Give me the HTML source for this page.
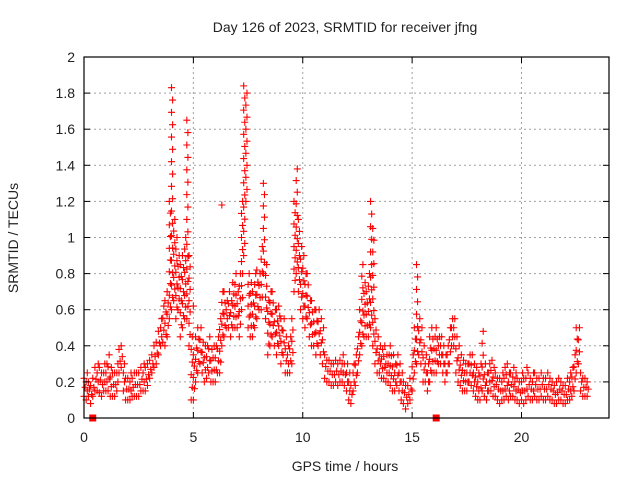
<!DOCTYPE html>
<html><head><meta charset="utf-8"><style>
html,body{margin:0;padding:0;background:#fff;}
svg text{font-family:"Liberation Sans",sans-serif;font-size:14px;fill:#222;}
</style></head><body>
<svg id="chart" width="640" height="480" viewBox="0 0 640 480" xmlns="http://www.w3.org/2000/svg">
<text x="345" y="32" text-anchor="middle">Day 126 of 2023, SRMTID for receiver jfng</text>
<text x="345" y="471" text-anchor="middle">GPS time / hours</text>
<text x="0" y="0" text-anchor="middle" transform="translate(18,238) rotate(-90)">SRMTID / TECUs</text>
<g id="grid"></g>
<g id="marks"></g>
<g id="axes"></g>
</svg>
<script>
const xTicks=[0,5,10,15,20];
const yTicks=[0,0.2,0.4,0.6,0.8,1,1.2,1.4,1.6,1.8,2];
const yTickLabels=["0","0.2","0.4","0.6","0.8","1","1.2","1.4","1.6","1.8","2"];
const startHour=0, stepHours=0.1;
const lowValues=[
0.12,0.10,0.12,0.08,0.12,0.15,0.15,0.14,0.12,0.15,
0.15,0.15,0.12,0.12,0.12,0.15,0.25,0.28,0.15,0.10,
0.10,0.10,0.12,0.12,0.12,0.12,0.15,0.15,0.15,0.18,
0.22,0.25,0.28,0.30,0.35,0.40,0.42,0.40,0.45,0.55,
0.60,0.65,0.55,0.60,0.45,0.50,0.55,0.55,0.40,0.10,
0.10,0.20,0.25,0.30,0.25,0.20,0.22,0.25,0.20,0.20,
0.20,0.25,0.25,0.40,0.45,0.50,0.50,0.45,0.50,0.50,
0.50,0.45,0.60,0.90,1.20,0.50,0.45,0.45,0.50,0.55,
0.60,0.60,0.80,0.55,0.35,0.40,0.45,0.40,0.35,0.40,
0.30,0.35,0.25,0.25,0.25,0.30,0.70,0.80,0.70,0.60,
0.55,0.50,0.55,0.45,0.40,0.40,0.35,0.40,0.35,0.30,
0.22,0.20,0.20,0.18,0.18,0.20,0.18,0.20,0.20,0.18,
0.15,0.10,0.08,0.15,0.18,0.25,0.35,0.40,0.45,0.45,
0.45,0.50,0.40,0.30,0.25,0.25,0.22,0.22,0.20,0.20,
0.18,0.15,0.15,0.18,0.15,0.10,0.08,0.05,0.08,0.10,
0.15,0.25,0.30,0.35,0.30,0.20,0.20,0.15,0.20,0.25,
0.25,0.25,0.30,0.30,0.25,0.20,0.25,0.30,0.40,0.40,
0.25,0.20,0.18,0.15,0.15,0.15,0.20,0.18,0.15,0.12,
0.10,0.10,0.15,0.12,0.10,0.15,0.15,0.12,0.12,0.10,
0.08,0.10,0.10,0.12,0.10,0.12,0.12,0.10,0.10,0.08,
0.10,0.08,0.10,0.12,0.10,0.10,0.12,0.10,0.10,0.12,
0.10,0.10,0.12,0.10,0.10,0.08,0.08,0.10,0.10,0.08,
0.08,0.10,0.10,0.12,0.15,0.25,0.30,0.15,0.12,0.12,
0.12];
const highValues=[
0.22,0.25,0.20,0.18,0.22,0.28,0.30,0.28,0.25,0.30,
0.30,0.35,0.28,0.25,0.25,0.30,0.38,0.40,0.30,0.22,
0.22,0.25,0.22,0.25,0.25,0.25,0.28,0.30,0.28,0.30,
0.32,0.35,0.40,0.42,0.48,0.55,0.62,0.65,0.70,1.20,
1.83,1.10,1.00,0.90,0.85,0.90,1.00,1.65,0.90,0.45,
0.35,0.45,0.50,0.50,0.42,0.40,0.40,0.45,0.38,0.40,
0.40,0.45,0.55,0.70,0.70,0.65,0.70,0.65,0.75,0.80,
0.70,0.80,1.20,1.84,1.80,0.80,0.75,0.70,0.80,0.82,
0.80,0.95,1.30,0.85,0.65,0.70,0.70,0.60,0.60,0.62,
0.55,0.55,0.45,0.40,0.45,0.55,1.20,1.38,1.10,0.95,
0.90,0.80,0.80,0.65,0.65,0.60,0.60,0.60,0.55,0.50,
0.35,0.32,0.32,0.30,0.30,0.32,0.30,0.32,0.35,0.30,
0.30,0.25,0.18,0.30,0.35,0.45,0.60,0.85,0.75,0.70,
0.80,1.20,1.05,0.55,0.45,0.40,0.38,0.40,0.35,0.35,
0.40,0.35,0.30,0.35,0.30,0.25,0.20,0.18,0.18,0.22,
0.35,0.50,0.85,0.55,0.50,0.40,0.35,0.30,0.45,0.50,
0.45,0.50,0.45,0.45,0.40,0.35,0.40,0.50,0.55,0.55,
0.45,0.40,0.35,0.32,0.30,0.30,0.35,0.35,0.30,0.28,
0.25,0.30,0.48,0.30,0.25,0.30,0.32,0.28,0.25,0.22,
0.22,0.25,0.28,0.30,0.25,0.25,0.28,0.25,0.22,0.20,
0.25,0.22,0.28,0.25,0.22,0.25,0.25,0.22,0.22,0.25,
0.22,0.22,0.25,0.22,0.20,0.18,0.20,0.22,0.20,0.18,
0.18,0.22,0.25,0.28,0.35,0.50,0.50,0.25,0.22,0.22,
0.20];
const outlierHours=[6.3,5.0];
const outlierValues=[1.18,0.62];
const markerHours=[0.4,16.1];

const NS="http://www.w3.org/2000/svg";
const L=84,R=609,T=57,B=418,XMAX=24,YMAX=2;
function sx(h){return L+(R-L)*h/XMAX;}
function sy(v){return B-(B-T)*v/YMAX;}
function mk(tag,attrs,parent){const e=document.createElementNS(NS,tag);for(const k in attrs)e.setAttribute(k,attrs[k]);parent.appendChild(e);return e;}
const grid=document.getElementById('grid'),marks=document.getElementById('marks'),axes=document.getElementById('axes');

yTicks.forEach((v,i)=>{
  if(v>0&&v<YMAX){const g=mk('line',{x1:L,x2:R,y1:sy(v),y2:sy(v),stroke:'#a0a0a0','stroke-dasharray':'2,3','stroke-width':1},grid);
  
  }
  const t=mk('text',{x:L-9,y:sy(v)+5,'text-anchor':'end'},axes);t.textContent=yTickLabels[i];
  
  
  mk('line',{x1:L,x2:L+6,y1:sy(v),y2:sy(v),stroke:'#000'},axes);
  mk('line',{x1:R,x2:R-6,y1:sy(v),y2:sy(v),stroke:'#000'},axes);
});
xTicks.forEach(h=>{
  if(h>0){const g=mk('line',{x1:sx(h),x2:sx(h),y1:T,y2:B,stroke:'#a0a0a0','stroke-dasharray':'2,3','stroke-width':1},grid);
  
  }
  const t=mk('text',{x:sx(h),y:442,'text-anchor':'middle'},axes);t.textContent=String(h);
  
  
  mk('line',{x1:sx(h),x2:sx(h),y1:B,y2:B-6,stroke:'#000'},axes);
  mk('line',{x1:sx(h),x2:sx(h),y1:T,y2:T+6,stroke:'#000'},axes);
});
const frame=mk('rect',{x:L,y:T,width:R-L,height:B-T,fill:'none',stroke:'#000','stroke-width':1.2},axes);



function plus(h,v){
  const x=sx(h),y=sy(v);
  const p=mk('path',{d:`M${x-3.5} ${y}h7M${x} ${y-3.5}v7`,stroke:'#ff0000','stroke-width':1.1,fill:'none'},marks);
  
  
}
lowValues.forEach((lo,i)=>{
  const hi=highValues[i],h=startHour+i*stepHours;
  const n=Math.max(3,Math.ceil((hi-lo)/0.07)+1);
  for(let k=0;k<n;k++){
    const f=k/(n-1);
    const hh=h+((k%2)?0.05:0);
    plus(hh,lo+(hi-lo)*f);
  }
});
outlierHours.forEach((h,i)=>plus(h,outlierValues[i]));
markerHours.forEach(h=>{
  const r=mk('rect',{x:sx(h)-3.5,y:B-3.5,width:7,height:7,fill:'#ff0000'},marks);
  
  
});
</script>
</body></html>
